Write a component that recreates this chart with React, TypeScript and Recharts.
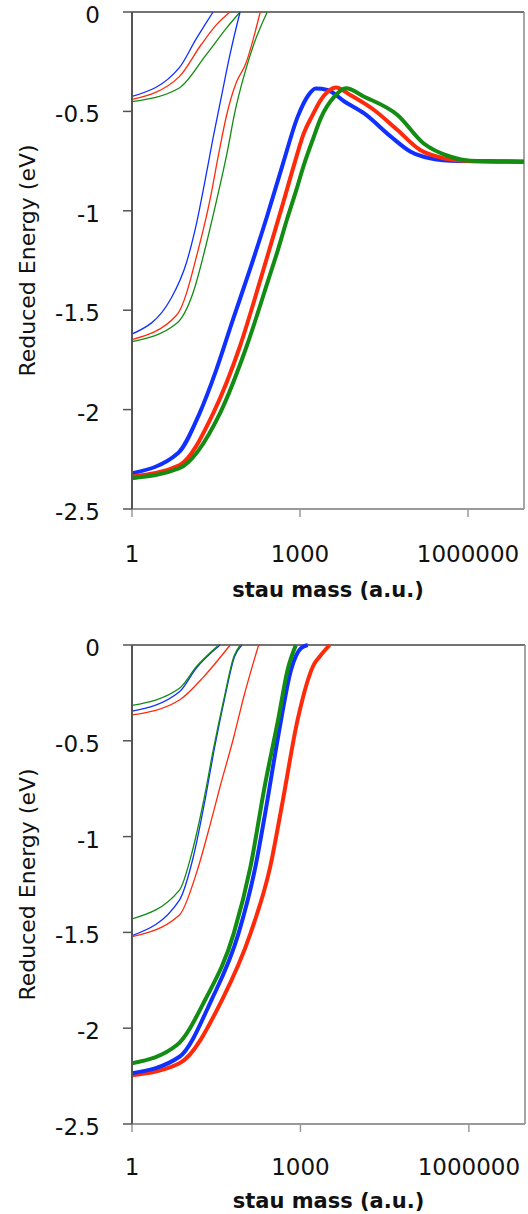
import React from 'react';
import { LineChart, Line, XAxis, YAxis, ReferenceLine } from 'recharts';

type P = { m: number; e: number };
const pts = (a: number[][]): P[] => a.map(([m, e]) => ({ m, e }));

// ---- tick labels ----
const xTicks = [1, 1000, 1000000];
const yTicks = [0, -0.5, -1, -1.5, -2, -2.5];
const xTitle = 'stau mass (a.u.)';
const yTitle = 'Reduced Energy (eV)';

// ---- top panel ----
const topBlueA = pts([[1, -0.425], [7, -0.28], [14, -0.135], [20, -0.065], [28, 0]]);
const topRedA = pts([[1, -0.44], [7, -0.325], [17, -0.166], [32, -0.065], [56, 0]]);
const topGreenA = pts([[1, -0.451], [7, -0.382], [21, -0.216], [49, -0.08], [85, 0]]);

const topBlueB = pts([[1, -1.62], [5, -1.44], [9.5, -1.256], [14, -1.071], [20, -0.853], [28, -0.635], [40, -0.418], [56, -0.216], [85, 0]]);
const topRedB = pts([[1, -1.648], [6.3, -1.524], [16, -1.172], [25, -0.937], [35, -0.719], [49, -0.518], [74, -0.35], [105, -0.267], [195, 0]]);
const topGreenB = pts([[1, -1.658], [6.3, -1.566], [12.5, -1.407], [21, -1.172], [32, -0.954], [49, -0.719], [69, -0.501], [105, -0.3], [148, -0.166], [260, 0]]);

const topBlueC = pts([[1, -2.32], [6.6, -2.22], [16, -2.02], [32, -1.8], [63, -1.55], [126, -1.3], [250, -1.04], [500, -0.76], [900, -0.53], [1400, -0.42], [1900, -0.385], [3100, -0.392], [6200, -0.45], [14000, -0.51], [42000, -0.627], [95000, -0.703], [210000, -0.736], [650000, -0.75], [10000000, -0.753]]);
const topRedC = pts([[1, -2.337], [7, -2.28], [28, -2.02], [85, -1.68], [195, -1.35], [316, -1.15], [500, -0.96], [800, -0.76], [1170, -0.61], [1700, -0.515], [2340, -0.443], [3160, -0.4], [4400, -0.38], [7900, -0.418], [21000, -0.493], [55000, -0.594], [140000, -0.694], [370000, -0.736], [1000000, -0.75], [10000000, -0.753]]);
const topGreenC = pts([[1, -2.345], [7, -2.295], [37, -2.02], [112, -1.68], [270, -1.35], [400, -1.2], [590, -1.04], [850, -0.9], [1170, -0.77], [1700, -0.64], [2340, -0.535], [4100, -0.426], [6600, -0.384], [14000, -0.426], [55000, -0.518], [160000, -0.66], [490000, -0.728], [1100000, -0.748], [10000000, -0.753]]);

// ---- bottom panel ----
const botBlueA = pts([[1, -0.345], [7, -0.244], [14, -0.12], [37, 0]]);
const botRedA = pts([[1, -0.365], [7, -0.287], [19, -0.165], [56, 0]]);
const botGreenA = pts([[1, -0.315], [7, -0.226], [14, -0.113], [35, 0]]);

const botBlueB = pts([[1, -1.517], [7, -1.331], [12.5, -1.1], [20, -0.809], [29, -0.548], [44, -0.287], [67, -0.061], [91, 0]]);
const botRedB = pts([[1, -1.522], [7, -1.409], [14, -1.192], [25, -0.931], [37, -0.74], [65, -0.48], [98, -0.27], [180, 0]]);
const botGreenB = pts([[1, -1.43], [7, -1.279], [11.6, -1.087], [19, -0.809], [28, -0.548], [43, -0.287], [65, -0.061], [85, 0]]);

const botBlueC = pts([[1, -2.235], [7, -2.149], [26, -1.853], [79, -1.505], [158, -1.157], [230, -0.896], [420, -0.444], [680, -0.13], [1020, -0.017], [1350, 0]]);
const botRedC = pts([[1, -2.245], [7, -2.183], [40, -1.853], [129, -1.505], [290, -1.157], [480, -0.82], [890, -0.391], [1780, -0.096], [2190, -0.061], [3300, 0]]);
const botGreenC = pts([[1, -2.183], [6.3, -2.088], [20, -1.853], [65, -1.505], [129, -1.157], [230, -0.74], [400, -0.391], [590, -0.13], [830, 0]]);

const BLUE = '#1030ff';
const RED = '#ff2a0a';
const GREEN = '#128c12';
const FONT = '"DejaVu Sans", sans-serif';

type S = { id: string; data: P[]; color: string; w: number };

const topSeries: S[] = [
  { id: 'tbA', data: topBlueA, color: BLUE, w: 1.3 },
  { id: 'trA', data: topRedA, color: RED, w: 1.3 },
  { id: 'tgA', data: topGreenA, color: GREEN, w: 1.3 },
  { id: 'tbB', data: topBlueB, color: BLUE, w: 1.3 },
  { id: 'trB', data: topRedB, color: RED, w: 1.3 },
  { id: 'tgB', data: topGreenB, color: GREEN, w: 1.3 },
  { id: 'tbC', data: topBlueC, color: BLUE, w: 4 },
  { id: 'trC', data: topRedC, color: RED, w: 4 },
  { id: 'tgC', data: topGreenC, color: GREEN, w: 4 },
];

const botSeries: S[] = [
  { id: 'bbA', data: botBlueA, color: BLUE, w: 1.3 },
  { id: 'brA', data: botRedA, color: RED, w: 1.3 },
  { id: 'bgA', data: botGreenA, color: GREEN, w: 1.3 },
  { id: 'bbB', data: botBlueB, color: BLUE, w: 1.3 },
  { id: 'brB', data: botRedB, color: RED, w: 1.3 },
  { id: 'bgB', data: botGreenB, color: GREEN, w: 1.3 },
  { id: 'brC', data: botRedC, color: RED, w: 4 },
  { id: 'bbC', data: botBlueC, color: BLUE, w: 4 },
  { id: 'bgC', data: botGreenC, color: GREEN, w: 4 },
];

function Panel(props: { height: number; top: number; right: number; plotH: number; xTickDy: number; xTitleDy: number; series: S[] }) {
  const { height, top, right, plotH, xTickDy, xTitleDy, series } = props;
  const XTick = (p: any) => (
    <text x={p.x} y={p.y + xTickDy} textAnchor="middle" fontFamily={FONT} fontSize={23} fill="#111">
      {String(p.payload.value)}
    </text>
  );
  const YTick = (p: any) => (
    <text x={p.x} y={p.y + 11} textAnchor="end" fontFamily={FONT} fontSize={23} fill="#111">
      {String(p.payload.value)}
    </text>
  );
  const XLabel = (p: any) => {
    const vb = p.viewBox;
    return (
      <text x={vb.x + vb.width / 2} y={vb.y + xTitleDy} textAnchor="middle" fontFamily={FONT} fontSize={21} fontWeight="bold" fill="#111">
        {xTitle}
      </text>
    );
  };
  const YLabel = (p: any) => {
    const vb = p.viewBox;
    const cx = 35;
    const cy = vb.y + vb.height / 2;
    return (
      <text x={cx} y={cy} transform={`rotate(-90 ${cx} ${cy})`} textAnchor="middle" fontFamily={FONT} fontSize={22} fill="#111">
        {yTitle}
      </text>
    );
  };
  return (
    <LineChart width={528} height={height} margin={{ top, right, left: 0, bottom: 0 }}>
      <XAxis
        dataKey="m"
        type="number"
        scale="log"
        domain={[1, 10000000]}
        allowDataOverflow
        ticks={xTicks}
        height={height - top - plotH}
        tickSize={8}
        tickMargin={0}
        tick={XTick}
        axisLine={{ stroke: '#999', strokeWidth: 2 }}
        tickLine={{ stroke: '#999', strokeWidth: 1.5 }}
        label={<XLabel />}
        interval={0}
      />
      <YAxis
        type="number"
        domain={[-2.5, 0]}
        ticks={yTicks}
        width={132}
        tickSize={9}
        tickMargin={23}
        tick={YTick}
        axisLine={{ stroke: '#555', strokeWidth: 2 }}
        tickLine={{ stroke: '#555', strokeWidth: 1.5 }}
        label={<YLabel />}
        interval={0}
      />
      <ReferenceLine y={0} stroke="#444" strokeWidth={1.5} />
      <ReferenceLine x={10000000} stroke="#888" strokeWidth={1.5} />
      {series.map((s) => (
        <Line
          key={s.id}
          name={s.id}
          data={s.data}
          dataKey="e"
          type="monotone"
          stroke={s.color}
          strokeWidth={s.w}
          dot={false}
          activeDot={false}
          isAnimationActive={false}
        />
      ))}
    </LineChart>
  );
}

export default function App() {
  return (
    <div style={{ position: 'absolute', left: 0, top: 0, width: 528, height: 1214, background: '#fff' }}>
      <Panel height={607} top={12} right={4} plotH={497} xTickDy={45} xTitleDy={88} series={topSeries} />
      <Panel height={607} top={38} right={3} plotH={479} xTickDy={43} xTitleDy={84} series={botSeries} />
    </div>
  );
}
